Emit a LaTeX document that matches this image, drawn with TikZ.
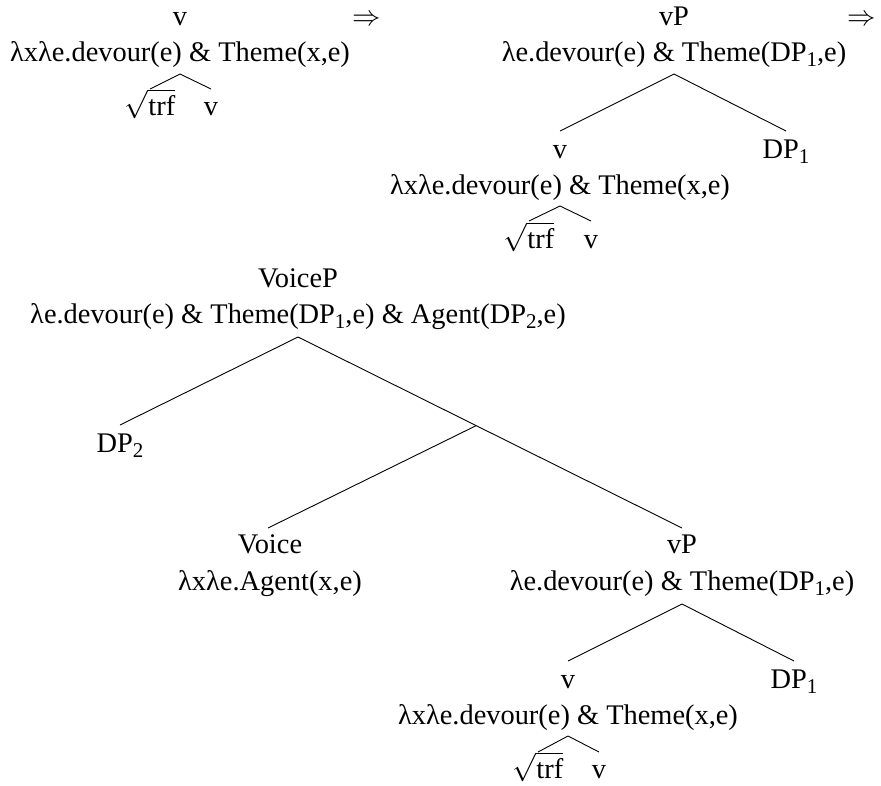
\RequirePackage{fix-cm}
\documentclass[tikz,border=0pt]{standalone}
\usepackage{fontspec}
\setmainfont{Liberation Serif}
\usetikzlibrary{calc}
\newcommand{\subn}[1]{\raisebox{-5pt}{\fontsize{21}{21}\selectfont #1}}
\newcommand{\rt}{$\sqrt{\mbox{trf}}$}
\tikzset{
  lbl/.style={anchor=base, inner sep=0pt},
  br/.style={line width=0.9pt}
}
\begin{document}
\begin{tikzpicture}[x=1pt,y=-1pt,font=\fontsize{28.4}{34}\selectfont]
\useasboundingbox (0,0) rectangle (881,785);
% ---- tree A
\node[lbl] (vA) at (180,25) {v};
\node[lbl] (lamA) at (180,61) {λxλe.devour(e) \& Theme(x,e)};
\node[lbl] (rootA) at (150,115) {\rt};
\node[lbl] (vA2) at (211,115) {v};
\node[lbl] (arrA) at (367,25) {$\Rightarrow$};
\draw[br] ($(lamA.base)+(0,13)$) -- ($(rootA.base)+(0,-26)$);
\draw[br] ($(lamA.base)+(0,13)$) -- ($(vA2.base)+(0,-26)$);
% ---- tree B
\node[lbl] (vPB) at (674,25) {vP};
\node[lbl] (lamB) at (674,61) {λe.devour(e) \& Theme(DP\subn{1},e)};
\node[lbl] (arrB) at (862,25) {$\Rightarrow$};
\node[lbl] (vB) at (560,158) {v};
\node[lbl] (dpB) at (786,158) {DP\subn{1}};
\node[lbl] (lamB2) at (560,194) {λxλe.devour(e) \& Theme(x,e)};
\node[lbl] (rootB) at (529,248) {\rt};
\node[lbl] (vB2) at (591,248) {v};
\draw[br] ($(lamB.base)+(0,13)$) -- ($(vB.base)+(0,-27)$);
\draw[br] ($(lamB.base)+(0,13)$) -- ($(dpB.base)+(0,-27)$);
\draw[br] ($(lamB2.base)+(0,12)$) -- ($(rootB.base)+(0,-27)$);
\draw[br] ($(lamB2.base)+(0,12)$) -- ($(vB2.base)+(0,-27)$);
% ---- tree C
\node[lbl] (voiceP) at (298,287) {VoiceP};
\node[lbl] (lamC) at (298,323) {λe.devour(e) \& Theme(DP\subn{1},e) \& Agent(DP\subn{2},e)};
\node[lbl] (dp2) at (120,452) {DP\subn{2}};
\node[lbl] (voice) at (270,553) {Voice};
\node[lbl] (lamV) at (270,590) {λxλe.Agent(x,e)};
\node[lbl] (vPC) at (682,553) {vP};
\node[lbl] (lamC2) at (682,590) {λe.devour(e) \& Theme(DP\subn{1},e)};
\node[lbl] (vC) at (568,688) {v};
\node[lbl] (dpC) at (794,688) {DP\subn{1}};
\node[lbl] (lamC3) at (568,724) {λxλe.devour(e) \& Theme(x,e)};
\node[lbl] (rootC) at (538,778) {\rt};
\node[lbl] (vC2) at (599,778) {v};
\coordinate (apexC) at ($(lamC.base)+(0,14)$);
\coordinate (vPtop) at ($(vPC.base)+(0,-25)$);
\coordinate (mid) at ($(apexC)!0.464!(vPtop)$);
\draw[br] (apexC) -- ($(dp2.base)+(0,-27)$);
\draw[br] (apexC) -- (vPtop);
\draw[br] (mid) -- ($(voice.base)+(-2,-25)$);
\draw[br] ($(lamC2.base)+(0,14)$) -- ($(vC.base)+(0,-27)$);
\draw[br] ($(lamC2.base)+(0,14)$) -- ($(dpC.base)+(0,-27)$);
\draw[br] ($(lamC3.base)+(0,12)$) -- ($(rootC.base)+(0,-26)$);
\draw[br] ($(lamC3.base)+(0,12)$) -- ($(vC2.base)+(0,-26)$);
\end{tikzpicture}
\end{document}
